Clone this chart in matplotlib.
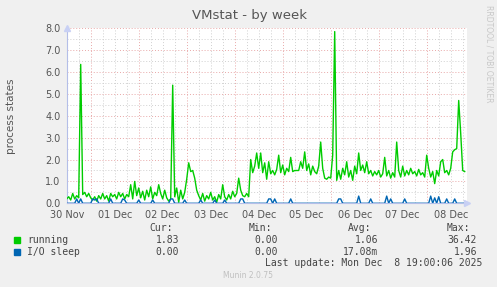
import matplotlib
matplotlib.use("Agg")
import matplotlib.pyplot as plt
import numpy as np

# hourly samples (200 h shown, starting 30 Nov 00:00)
running = [
    0.2, 0.3, 0.15, 0.45, 0.2, 0.35, 0.25, 6.35,
    0.4, 0.5, 0.3, 0.45, 0.25,
    0.15, 0.3, 0.1, 0.35, 0.2,
    0.45, 0.2, 0.35, 0.1, 0.45, 0.3,
    0.4, 0.2, 0.5, 0.3, 0.45, 0.2, 0.4,
    0.3, 0.85, 0.2, 1.0, 0.35, 0.7, 0.25,
    0.55, 0.15, 0.6, 0.3, 0.75, 0.2, 0.5, 0.35,
    0.85, 0.45, 0.2, 0.6, 0.25, 0.1, 0.2, 5.4,
    0.3, 0.7, 0.05, 0.6, 0.2, 0.5,
    1.1, 1.85, 1.45, 1.5, 1.15, 0.6, 0.35,
    0.15, 0.45, 0.1, 0.35, 0.2, 0.5, 0.15,
    0.3, 0.05, 0.4, 0.2, 0.85, 0.3, 0.15,
    0.4, 0.2, 0.55, 0.3, 0.45, 1.15, 0.6,
    0.35, 0.3, 0.45, 0.3,
    2.0, 1.4, 1.7, 2.3, 1.6, 2.3, 1.4, 1.85,
    1.1, 1.9, 1.35, 1.5, 1.3, 1.55, 2.2, 1.4,
    1.75, 1.3, 1.6, 1.45, 2.1, 1.45, 1.5, 1.5,
    1.5, 1.9, 1.6, 2.35, 1.5, 1.8, 1.3, 1.7,
    1.45, 1.35, 1.7, 2.8, 1.6, 1.15,
    1.1, 1.2, 1.15, 2.2, 7.85,
    1.05, 1.5, 1.1, 1.6, 1.3, 1.9,
    1.2, 1.5, 1.05, 1.7, 1.35, 2.3, 1.5,
    1.75, 1.4, 1.9, 1.35, 1.5, 1.25, 1.45, 1.3,
    1.5, 1.2, 1.35, 2.1, 1.25, 1.5, 1.15,
    1.4, 1.2, 2.8, 1.5, 1.2, 1.7, 1.25,
    1.5, 1.3, 1.6, 1.35, 1.45, 1.25, 1.55,
    1.3, 1.4, 1.2, 2.2, 1.6, 1.2, 1.45,
    0.9, 1.5, 1.25, 1.9, 2.0, 1.4, 1.5,
    1.3, 1.6, 2.35, 2.45, 2.5, 4.7, 3.2, 1.5, 1.45,
]

# I/O sleep: zero except small blips (hour index -> value)
io_hours = [5, 7, 13, 14, 15, 22, 28, 29, 36, 43, 52, 53, 59, 67, 74, 79,
            87, 88, 101, 102, 104, 112, 136, 137, 146, 152, 160, 162, 169,
            182, 184, 186, 190, 194]
io_vals = [0.2, 0.2, 0.2, 0.15, 0.2, 0.2, 0.2, 0.15, 0.15, 0.15, 0.2, 0.2,
           0.15, 0.15, 0.15, 0.15, 0.2, 0.2, 0.2, 0.2, 0.2, 0.2, 0.2, 0.2,
           0.33, 0.2, 0.33, 0.2, 0.2, 0.33, 0.25, 0.3, 0.2, 0.2]

day_labels = ['30 Nov', '01 Dec', '02 Dec', '03 Dec', '04 Dec',
              '05 Dec', '06 Dec', '07 Dec', '08 Dec']

legend_names = ['running', 'I/O sleep']
legend_colors = ['#00CC00', '#0066B3']
cur = ['1.83', '0.00']
mins = ['0.00', '0.00']
avgs = ['1.06', '17.08m']
maxs = ['36.42', '1.96']

hours = np.arange(len(running))
io_sleep = np.zeros(len(running))
io_sleep[io_hours] = io_vals

W, H = 497, 287
fig = plt.figure(figsize=(W / 100, H / 100), dpi=100, facecolor='#F0F0F0')
ax = fig.add_axes([66.7 / W, (H - 203.3) / H, 400 / W, 175 / H])
ax.set_facecolor('white')

ax.set_xlim(0, 200)
ax.set_ylim(0, 8)

# grid like rrdtool: minor grey, major pinkish red, dotted
minor_c = '#D0D0D0'
major_c = '#E8A8A8'
for h in np.arange(6, 200, 6):
    c = major_c if (h - 12) % 24 == 0 else minor_c
    ax.axvline(h, color=c, lw=0.7, ls=(0, (1, 2)), zorder=1)
for v in np.arange(0.5, 8.01, 0.5):
    c = major_c if v % 1 == 0 else minor_c
    ax.axhline(v, color=c, lw=0.7, ls=(0, (1, 2)), zorder=1)

ax.plot(hours, running, color=legend_colors[0], lw=1.0, zorder=3)
ax.plot(hours, io_sleep, color=legend_colors[1], lw=1.0, zorder=4)

for s in ['top', 'right']:
    ax.spines[s].set_visible(False)
axis_c = '#B4BEE8'
for s in ['left', 'bottom']:
    ax.spines[s].set_color(axis_c)
    ax.spines[s].set_linewidth(0.8)
ax.plot([1.0], [0], marker='>', ms=4, color='#C8D0F4', transform=ax.transAxes,
        clip_on=False, zorder=5)
ax.plot([0], [1.0], marker='^', ms=4, color='#C8D0F4', transform=ax.transAxes,
        clip_on=False, zorder=5)

ax.set_xticks(np.arange(0, 200, 24), day_labels)
ax.set_yticks(np.arange(0, 9, 1), [f'{v:.1f}' for v in range(9)])
ax.tick_params(length=0, labelsize=7, colors='#555555')
ax.tick_params(axis='x', pad=4.5)
ax.tick_params(axis='y', pad=4.5)
ax.set_ylabel('process states', fontsize=7.5, color='#555555')
ax.yaxis.set_label_coords(-51 / 400, 0.5)

fig.text(250 / W, 1 - 15 / H, 'VMstat - by week', ha='center', va='center',
         fontsize=9.5, color='#555555')
fig.text(489 / W, 1 - 5 / H, 'RRDTOOL / TOBI OETIKER', rotation=270,
         ha='center', va='top', fontsize=5.5, color='#C8C8C8')

mono = 'DejaVu Sans Mono'
tc = '#444444'
y_head = 1 - 227.7 / H
for label, xr in zip(['Cur:', 'Min:', 'Avg:', 'Max:'], [173, 272, 371, 470]):
    fig.text(xr / W, y_head, label, ha='right', va='center', family=mono,
             fontsize=7, color=tc)
rows_y = [240, 251.7]
for i in range(2):
    y = 1 - rows_y[i] / H
    fig.patches.append(plt.Rectangle((14 / W, y - 3 / H), 6 / W, 6 / H,
                                     transform=fig.transFigure,
                                     color=legend_colors[i]))
    fig.text(27 / W, y, legend_names[i], ha='left', va='center', family=mono,
             fontsize=7, color=tc)
    for val, xr in zip([cur[i], mins[i], avgs[i], maxs[i]], [179, 278, 378, 477]):
        fig.text(xr / W, y, val, ha='right', va='center', family=mono,
                 fontsize=7, color=tc)

fig.text(482 / W, 1 - 263.3 / H, 'Last update: Mon Dec  8 19:00:06 2025',
         ha='right', va='center', family=mono, fontsize=7, color=tc)
fig.text(248 / W, 1 - 276 / H, 'Munin 2.0.75', ha='center', va='center',
         fontsize=5.5, color='#C0C0C0')

fig.savefig('out.png', dpi=100, facecolor=fig.get_facecolor())
